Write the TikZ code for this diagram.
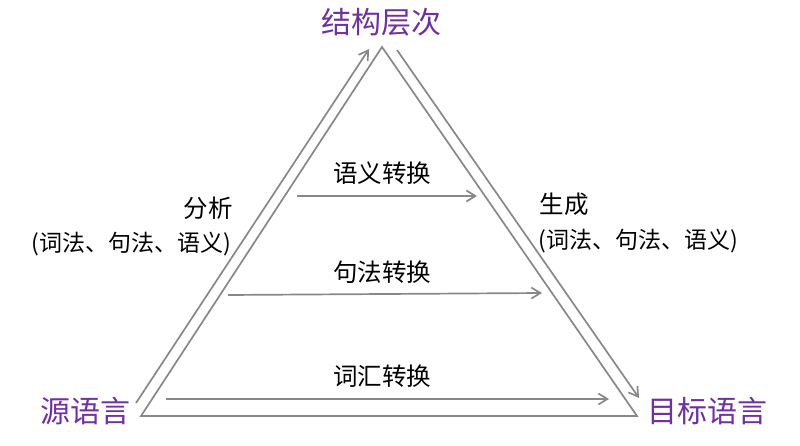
\documentclass[tikz,border=0pt]{standalone}
\usepackage{fontspec}
\setmainfont{Noto Sans CJK SC}
\usetikzlibrary{positioning, arrows.meta, calc}
\definecolor{cP}{RGB}{112,48,160}
\definecolor{cL}{RGB}{136,136,136}

\begin{document}
\begin{tikzpicture}[x=1pt, y=-1pt,
    edge/.style={draw=cL, line width=1.7pt},
    flow/.style={edge, -{Straight Barb[length=9pt, width=11pt, line width=1.7pt]}},
    lang/.style={text=cP, font=\fontsize{30}{34}\selectfont, inner sep=0pt},
    step label/.style={text=black, font=\fontsize{24.5}{28}\selectfont, inner sep=0pt},
    step detail/.style={step label, font=\fontsize{23}{28}\selectfont}]

    \useasboundingbox (0,0) rectangle (800,446);

    % Triangle corners
    \coordinate (BL) at (141,416);
    \coordinate (T)  at (382,47);
    \coordinate (BR) at (637,416);
    \draw[edge, line join=miter] (BL) -- (T) -- (BR) -- cycle;

    % Language levels
    \node[lang] (src) at (85,411)  {源语言};
    \node[lang] (top) at (381,22)  {结构层次};
    \node[lang] (tgt) at (707,411) {目标语言};

    % Analysis and generation
    \coordinate (A0) at (136,403);
    \coordinate (A1) at (369,49);
    \coordinate (G0) at (397,50);
    \coordinate (G1) at (639,398);
    \draw[flow] (A0) -- (A1);
    \draw[flow] (G0) -- (G1);

    \node[step label]  (ana)  at (208,208) {分析};
    \node[step detail] (anaD) at (131,244) {(词法、句法、语义)};
    \node[step label]  (gen)  at (564,204) {生成};
    \node[step detail] (genD) at (638,241) {(词法、句法、语义)};

    % Transfers
    \coordinate (S0) at (297,196);
    \coordinate (S1) at (477,196);
    \coordinate (Y0) at (228,295);
    \coordinate (Y1) at (542,293);
    \coordinate (L0) at (166,399);
    \coordinate (L1) at (609,399);
    \draw[flow] (S0) -- (S1);
    \draw[flow] (Y0) -- (Y1);
    \draw[flow] (L0) -- (L1);

    \node[step label] (sem) at (382,173) {语义转换};
    \node[step label] (syn) at (382,272) {句法转换};
    \node[step label] (lex) at (382,376) {词汇转换};

\end{tikzpicture}
\end{document}
